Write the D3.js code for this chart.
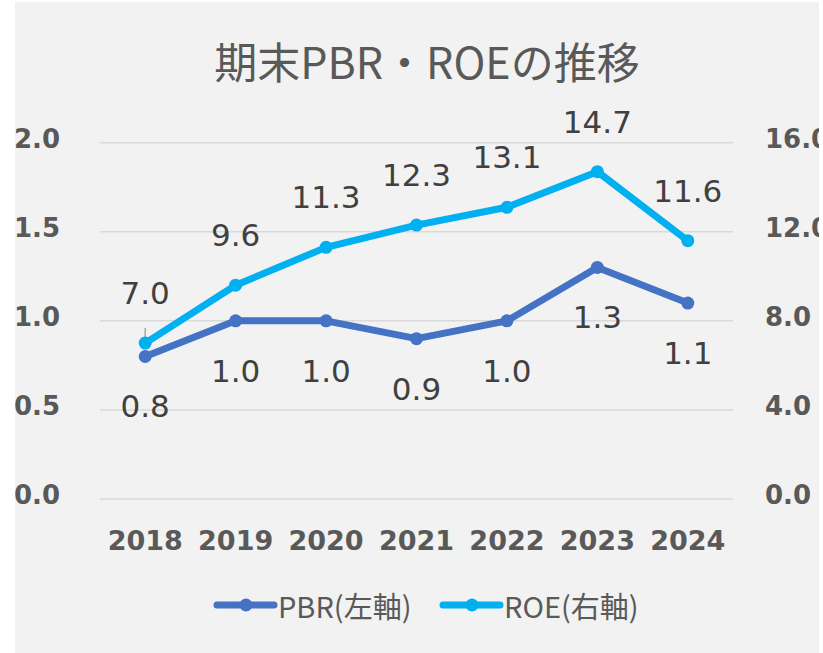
<!DOCTYPE html>
<html>
<head>
<meta charset="utf-8">
<script src="https://cdn.jsdelivr.net/npm/d3@7/dist/d3.min.js"></script>
<style>
  html, body { margin: 0; padding: 0; background: #ffffff; }
  svg { display: block; }
</style>
</head>
<body>
<svg id="chart" width="823" height="653"></svg>
<script>
// Fiscal-year categories and the two series
const years = ["2018", "2019", "2020", "2021", "2022", "2023", "2024"];
const pbrValues = [0.8, 1.0, 1.0, 0.9, 1.0, 1.3, 1.1];
const roeValues = [7.0, 9.6, 11.3, 12.3, 13.1, 14.7, 11.6];
const leftTicks = [0.0, 0.5, 1.0, 1.5, 2.0];
const rightTicks = [0.0, 4.0, 8.0, 12.0, 16.0];
const titleText = "期末PBR・ROEの推移";
const seriesNames = ["PBR(左軸)", "ROE(右軸)"];

const svg = d3.select("#chart");

const bgX0 = 15, bgY0 = 2, bgX1 = 819, bgY1 = 653;
const plot = { left: 100, right: 733, top: 142.7, bottom: 499 };

const colors = { pbr: "#4472C4", roe: "#00B0F0" };
const axisText = "#595959";
const labelText = "#404040";

// chart area background, everything clipped to it
svg.append("defs").append("clipPath").attr("id", "area")
  .append("rect").attr("x", bgX0).attr("y", bgY0)
  .attr("width", bgX1 - bgX0).attr("height", bgY1 - bgY0);

const root = svg.append("g").attr("clip-path", "url(#area)");
root.append("rect").attr("x", bgX0).attr("y", bgY0)
  .attr("width", bgX1 - bgX0).attr("height", bgY1 - bgY0)
  .attr("fill", "#f2f2f2");

const x = d3.scaleBand().domain(years).range([plot.left, plot.right]);
const yL = d3.scaleLinear().domain([0, 2]).range([plot.bottom, plot.top]);
const yR = d3.scaleLinear().domain([0, 16]).range([plot.bottom, plot.top]);
const cx = d => x(d) + x.bandwidth() / 2;

const cjkFont = "'Noto Sans CJK JP', 'Noto Sans', sans-serif";
const tickFont = "'DejaVu Sans', Verdana, sans-serif";

// title
root.append("text")
  .attr("x", 427).attr("y", 60)
  .attr("text-anchor", "middle").attr("dominant-baseline", "central")
  .attr("font-family", cjkFont)
  .attr("font-size", 43).attr("fill", axisText)
  .text(titleText);

// gridlines
root.append("g").selectAll("line").data(leftTicks).join("line")
  .attr("x1", plot.left).attr("x2", plot.right)
  .attr("y1", d => yL(d)).attr("y2", d => yL(d))
  .attr("stroke", "#d9d9d9").attr("stroke-width", 1.5);

// axes (labels only)
const leftAxis = root.append("g").attr("transform", `translate(${60},-4)`)
  .call(d3.axisLeft(yL).tickValues(leftTicks).tickFormat(d3.format(".1f")).tickSize(0).tickPadding(0));
const rightAxis = root.append("g").attr("transform", `translate(${765},-4)`)
  .call(d3.axisRight(yR).tickValues(rightTicks).tickFormat(d3.format(".1f")).tickSize(0).tickPadding(0));
const bottomAxis = root.append("g").attr("transform", `translate(0,${540})`)
  .call(d3.axisBottom(x).tickSize(0).tickPadding(0));
[leftAxis, rightAxis].forEach(g => {
  g.select(".domain").remove();
  g.selectAll("text")
    .attr("font-family", tickFont).attr("font-weight", "bold")
    .attr("font-size", 26).attr("fill", axisText);
});
bottomAxis.select(".domain").remove();
bottomAxis.selectAll("text")
  .attr("font-family", tickFont).attr("font-weight", "bold")
  .attr("font-size", 27).attr("fill", axisText)
  .attr("y", 0).attr("dy", "0.36em");

// series
const series = [
  { key: "pbr", values: pbrValues, y: yL, color: colors.pbr, fmt: d3.format(".1f"), dy: 50 },
  { key: "roe", values: roeValues, y: yR, color: colors.roe, fmt: d3.format(".1f"), dy: -50 }
];

// leader line for the first ROE label
root.append("line")
  .attr("x1", cx(years[0])).attr("x2", cx(years[0]))
  .attr("y1", yR(roeValues[0]) - 15).attr("y2", yR(roeValues[0]) - 2)
  .attr("stroke", "#a6a6a6").attr("stroke-width", 1.5);

series.forEach(s => {
  const pts = years.map((yr, i) => [cx(yr), s.y(s.values[i])]);
  const g = root.append("g");
  g.append("path")
    .attr("d", d3.line()(pts))
    .attr("fill", "none").attr("stroke", s.color)
    .attr("stroke-width", 7).attr("stroke-linejoin", "round").attr("stroke-linecap", "round");
  g.selectAll("circle").data(pts).join("circle")
    .attr("cx", d => d[0]).attr("cy", d => d[1]).attr("r", 6.5)
    .attr("fill", s.color);
});

// data labels
series.forEach(s => {
  root.append("g").selectAll("text").data(years).join("text")
    .attr("x", d => cx(d))
    .attr("y", (d, i) => s.y(s.values[i]) + s.dy)
    .attr("text-anchor", "middle").attr("dominant-baseline", "central")
    .attr("font-family", tickFont).attr("font-size", 31).attr("fill", labelText)
    .text((d, i) => s.fmt(s.values[i]));
});

// legend
const legend = root.append("g");
const legendItems = [
  { name: seriesNames[0], color: colors.pbr, x0: 217 },
  { name: seriesNames[1], color: colors.roe, x0: 443 }
];
const ly = 605;
legendItems.forEach(it => {
  legend.append("line")
    .attr("x1", it.x0).attr("x2", it.x0 + 57).attr("y1", ly).attr("y2", ly)
    .attr("stroke", it.color).attr("stroke-width", 7).attr("stroke-linecap", "round");
  legend.append("circle").attr("cx", it.x0 + 29).attr("cy", ly).attr("r", 6.5).attr("fill", it.color);
  legend.append("text")
    .attr("x", it.x0 + 61).attr("y", ly)
    .attr("dominant-baseline", "central")
    .attr("font-family", cjkFont)
    .attr("font-size", 29).attr("fill", axisText)
    .text(it.name);
});
</script>
</body>
</html>
